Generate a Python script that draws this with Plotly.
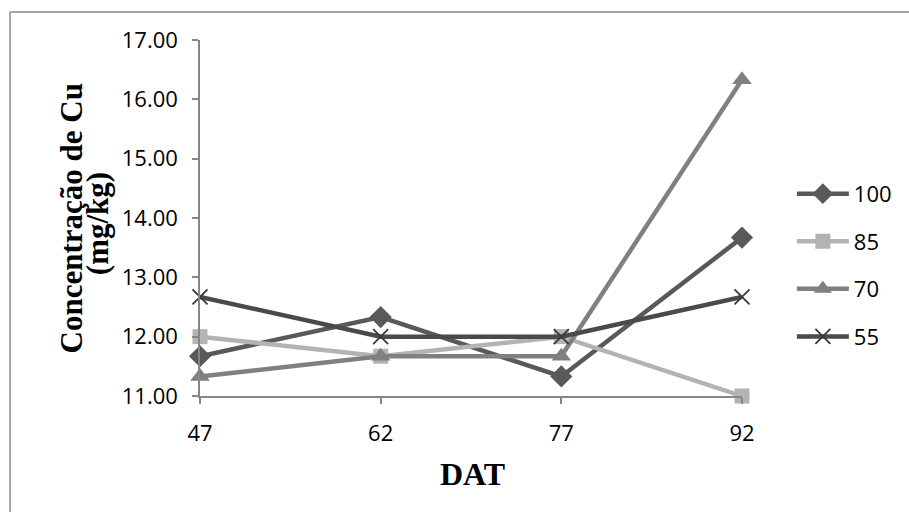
import plotly.graph_objects as go

# Days after transplanting (DAT) and Cu concentration (mg/kg) per treatment
dat = [47, 62, 77, 92]
cu_100 = [11.67, 12.33, 11.33, 13.67]
cu_85 = [12.00, 11.67, 12.00, 11.00]
cu_70 = [11.33, 11.67, 11.67, 16.33]
cu_55 = [12.67, 12.00, 12.00, 12.67]

y_ticks = [11, 12, 13, 14, 15, 16, 17]

series = [
    ("100", cu_100, "#595959", "diamond", 17),
    ("85", cu_85, "#b3b3b3", "square", 15),
    ("70", cu_70, "#808080", "triangle-up", 17),
    ("55", cu_55, "#4a4a4a", "x-thin", 15),
]

fig = go.Figure()
for name, vals, color, symbol, size in series:
    marker = dict(symbol=symbol, size=size, color=color)
    if symbol == "x-thin":
        marker["line"] = dict(color="#3a3a3a", width=1.8)
    fig.add_trace(go.Scatter(
        x=dat, y=vals, name=name, mode="lines+markers",
        line=dict(color=color, width=4.5),
        marker=marker, cliponaxis=False, legendgroup=name,
    ))

axis_color = "#868686"
tick_font = dict(family="Open Sans", size=22, color="#000000")

fig.update_layout(
    width=909, height=512,
    margin=dict(l=200, r=161, t=40, b=116),
    paper_bgcolor="white", plot_bgcolor="white",
    showlegend=True,
    legend=dict(
        x=1.092, xanchor="left", y=0.367, yanchor="middle",
        font=dict(family="Open Sans", size=22, color="#000000"),
        tracegroupgap=16, itemwidth=52, bgcolor="rgba(0,0,0,0)",
    ),
    xaxis=dict(
        range=[47, 92], tickvals=dat, ticktext=[str(d) for d in dat],
        showgrid=False, zeroline=False, showline=True,
        linecolor=axis_color, linewidth=1.5,
        ticks="outside", ticklen=6, tickcolor=axis_color, tickwidth=1.5,
        tickfont=tick_font, ticklabelstandoff=11,
    ),
    yaxis=dict(
        range=[11, 17], tickvals=y_ticks,
        ticktext=[f"{v:.2f}" for v in y_ticks],
        showgrid=False, zeroline=False, showline=True,
        linecolor=axis_color, linewidth=1.5,
        ticks="outside", ticklen=6, tickcolor=axis_color, tickwidth=1.5,
        tickfont=tick_font, ticklabelstandoff=10,
    ),
)

title_font = dict(family="Liberation Serif", size=31, color="#000000")
fig.add_annotation(
    text="<b>Concentração de Cu</b>", xref="paper", yref="paper",
    x=-0.2372, y=0.50, xanchor="center", yanchor="middle",
    textangle=-90, showarrow=False, font=title_font,
)
fig.add_annotation(
    text="<b>(mg/kg)</b>", xref="paper", yref="paper",
    x=-0.1885, y=0.485, xanchor="center", yanchor="middle",
    textangle=-90, showarrow=False, font=title_font,
)
fig.add_annotation(
    text="<b>DAT</b>", xref="paper", yref="paper",
    x=0.5036, y=-0.219, xanchor="center", yanchor="middle",
    showarrow=False, font=dict(family="Liberation Serif", size=32, color="#000000"),
)

# Chart-area frame (left and top edges)
frame = dict(color="#888888", width=1.5)
fig.add_shape(type="line", xref="paper", yref="paper",
              x0=-0.3504, y0=1.0787, x1=1.32, y1=1.0787, line=frame)
fig.add_shape(type="line", xref="paper", yref="paper",
              x0=-0.3504, y0=1.0787, x1=-0.3504, y1=-0.40, line=frame)

fig.write_html("out.html")
